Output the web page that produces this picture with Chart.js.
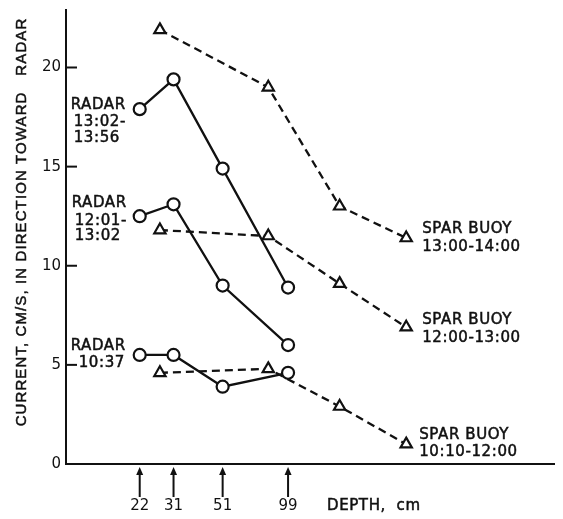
<!DOCTYPE html>
<html>
<head>
<meta charset="utf-8">
<script src="https://cdn.jsdelivr.net/npm/chart.js@4.4.1/dist/chart.umd.min.js"></script>
<style>
  html, body { margin: 0; padding: 0; background: #fff; }
</style>
</head>
<body>
<canvas id="chart" width="563" height="519"></canvas>
<script>
// depth ticks (cm) marked by arrows under the axis
const depthTicks = [22, 31, 51, 99];
const radarDepths = [22, 31, 51, 99];
const buoyDepths = [27, 81, 167, 328];
const yTicks = [0, 5, 10, 15, 20];

// current, cm/s toward radar
const radar1302 = [17.9, 19.4, 14.9, 8.9];
const radar1201 = [12.5, 13.1, 9.0, 6.0];
const radar1037 = [5.5, 5.5, 3.9, 4.6];
const buoy1300 = [21.9, 19.0, 13.0, 11.4];
const buoy1200 = [11.8, 11.5, 9.1, 6.9];
const buoy1010 = [4.6, 4.8, 2.9, 1.0];

const INK = '#111';
const LABEL_FONT = '15px "DejaVu Sans"';

function pts(xs, ys) {
    return xs.map((x, i) => ({ x: x, y: ys[i] }));
}

function radarSet(values) {
    return {
        data: pts(radarDepths, values),
        borderColor: INK,
        borderWidth: 2.3,
        pointStyle: 'circle',
        pointRadius: 6,
        pointBorderWidth: 2.2,
        pointBackgroundColor: '#fff',
        pointBorderColor: INK,
        tension: 0
    };
}

function buoySet(values) {
    return {
        data: pts(buoyDepths, values),
        borderColor: INK,
        borderWidth: 2.3,
        borderDash: [8, 5],
        pointStyle: 'triangle',
        pointRadius: 6.5,
        pointBorderWidth: 2.2,
        pointBackgroundColor: '#fff',
        pointBorderColor: INK,
        tension: 0
    };
}

// text blocks next to each curve: anchor point index, per-line offsets from it
const notes = [
    { at: 0, lines: [['RADAR', -69, -4], ['13:02-', -66, 13], ['13:56', -66, 29]] },
    { at: 0, lines: [['RADAR', -68, -13], ['12:01-', -65, 5], ['13:02', -65, 20]] },
    { at: 0, lines: [['RADAR', -69, -9], ['10:37', -61, 8]] },
    { at: 3, lines: [['SPAR BUOY', 16, -9], ['13:00-14:00', 16, 9]] },
    { at: 3, lines: [['SPAR BUOY', 16, -7], ['12:00-13:00', 16, 11]] },
    { at: 3, lines: [['SPAR BUOY', 13, -9], ['10:10-12:00', 13, 8]] }
];

function inkText(ctx, txt, x, y) {
    ctx.fillText(txt, x, y);
    ctx.strokeText(txt, x, y);
}

const decorations = {
    id: 'decorations',
    afterDraw(chart) {
        const ctx = chart.ctx;
        const xs = chart.scales.x;
        const ys = chart.scales.y;
        const area = chart.chartArea;
        ctx.save();
        ctx.strokeStyle = INK;
        ctx.fillStyle = INK;
        ctx.lineWidth = 2;

        // inward tick marks on the current axis
        yTicks.slice(1).forEach(v => {
            const py = ys.getPixelForValue(v);
            ctx.beginPath();
            ctx.moveTo(area.left, py);
            ctx.lineTo(area.left + 11, py);
            ctx.stroke();
        });

        // arrows pointing up at each depth
        depthTicks.forEach(d => {
            const px = xs.getPixelForValue(d);
            ctx.beginPath();
            ctx.moveTo(px, area.bottom + 9);
            ctx.lineTo(px, area.bottom + 33);
            ctx.stroke();
            ctx.beginPath();
            ctx.moveTo(px, area.bottom + 3);
            ctx.lineTo(px - 3.5, area.bottom + 11);
            ctx.lineTo(px + 3.5, area.bottom + 11);
            ctx.closePath();
            ctx.fill();
        });

        // curve labels
        ctx.font = LABEL_FONT;
        ctx.letterSpacing = '0.6px';
        ctx.lineWidth = 0.5;
        ctx.textAlign = 'left';
        ctx.textBaseline = 'middle';
        notes.forEach((n, i) => {
            const p = chart.getDatasetMeta(i).data[n.at];
            n.lines.forEach(([txt, dx, dy]) => inkText(ctx, txt, p.x + dx, p.y + dy));
        });

        inkText(ctx, 'DEPTH,  cm', 327, area.bottom + 42);

        // axis title, rotated
        ctx.font = '15px "Liberation Sans"';
        ctx.letterSpacing = '1.1px';
        ctx.translate(22, 222);
        ctx.rotate(-Math.PI / 2);
        ctx.textAlign = 'center';
        inkText(ctx, 'CURRENT, CM/S, IN DIRECTION TOWARD   RADAR', 0, 0);
        ctx.restore();
    }
};

new Chart(document.getElementById('chart'), {
    type: 'line',
    data: {
        datasets: [
            radarSet(radar1302),
            radarSet(radar1201),
            radarSet(radar1037),
            buoySet(buoy1300),
            buoySet(buoy1200),
            buoySet(buoy1010)
        ]
    },
    options: {
        responsive: false,
        animation: false,
        devicePixelRatio: 1,
        layout: { padding: { top: 0, right: 6, left: 0, bottom: 0 } },
        plugins: {
            legend: { display: false },
            tooltip: { enabled: false }
        },
        scales: {
            x: {
                type: 'logarithmic',
                min: 10.42,
                max: 1472,
                grid: { display: false, drawTicks: false },
                border: { display: true, color: INK, width: 2 },
                afterBuildTicks: s => { s.ticks = depthTicks.map(v => ({ value: v })); },
                afterFit: s => { s.height = 55; },
                ticks: {
                    autoSkip: false,
                    maxRotation: 0,
                    padding: 33,
                    color: INK,
                    font: { family: 'DejaVu Sans', size: 15 },
                    callback: v => String(v)
                }
            },
            y: {
                min: 0,
                max: 22.9,
                grid: { display: false, drawTicks: false },
                border: { display: true, color: INK, width: 2 },
                afterBuildTicks: s => { s.ticks = yTicks.map(v => ({ value: v })); },
                afterFit: s => { s.width = 66; s.paddingTop = 10; s.paddingBottom = 0; },
                ticks: {
                    padding: 5,
                    color: INK,
                    font: { family: 'DejaVu Sans', size: 15 }
                }
            }
        }
    },
    plugins: [decorations]
});
</script>
</body>
</html>
